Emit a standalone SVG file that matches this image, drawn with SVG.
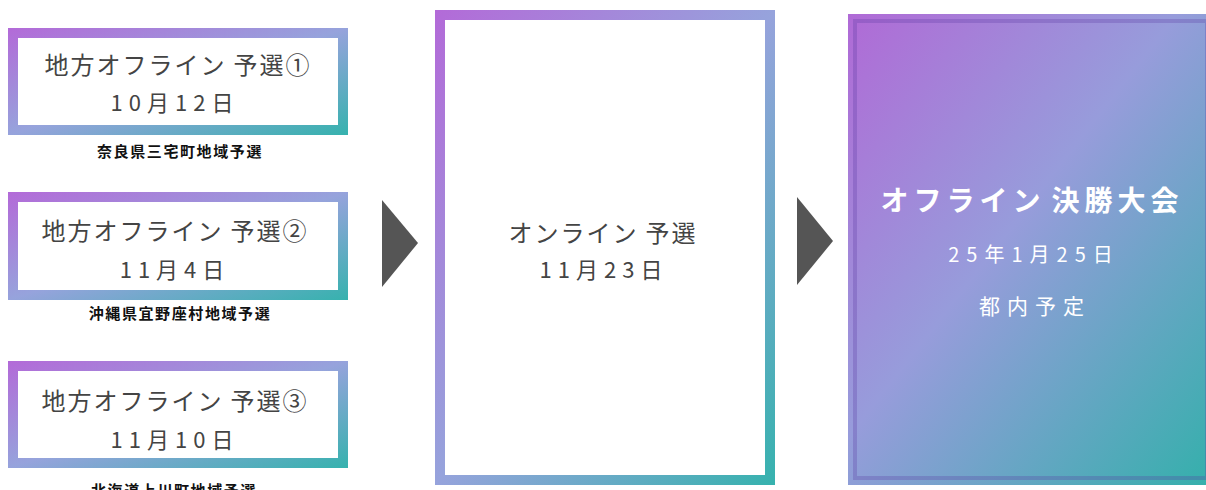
<svg xmlns="http://www.w3.org/2000/svg" width="1206" height="490" viewBox="0 0 1206 490">
  <defs>
    <linearGradient id="g" x1="0" y1="0" x2="1" y2="1">
      <stop offset="0" stop-color="#b36ad8"/>
      <stop offset="0.5" stop-color="#96a3dc"/>
      <stop offset="1" stop-color="#36b2ae"/>
    </linearGradient>
    <linearGradient id="gf" x1="0" y1="0" x2="1" y2="1">
      <stop offset="0" stop-color="#b06ad6"/>
      <stop offset="0.45" stop-color="#979cdb"/>
      <stop offset="1" stop-color="#33b0ab"/>
    </linearGradient>
    <style>
      .t { font-family: "Noto Sans CJK JP", "Noto Sans", sans-serif; text-anchor: middle; }
      .title { font-size: 24px; fill: #444; letter-spacing: 2px; }
      .date { font-size: 22px; fill: #444; letter-spacing: 6px; }
      .sub { font-size: 15px; fill: #111; font-weight: bold; letter-spacing: 1.6px; }
      .ftitle { font-size: 28px; fill: #fff; font-weight: bold; letter-spacing: 5px; }
      .fsub { font-size: 20px; fill: #fff; letter-spacing: 7px; }
      .arrow { fill: #555; }
      .white { fill: #fff; }
    </style>
  </defs>

  <g id="qual1">
    <rect x="8" y="28" width="340" height="107" fill="url(#g)"/>
    <rect x="18" y="38" width="320" height="87" class="white"/>
    <text class="t title" x="178" y="74">地方オフライン<tspan dx="7">予選①</tspan></text>
    <text class="t date" x="175" y="111">10月12日</text>
    <text class="t sub" x="180" y="157">奈良県三宅町地域予選</text>
  </g>

  <g id="qual2">
    <rect x="8" y="192" width="340" height="108" fill="url(#g)"/>
    <rect x="18" y="202" width="320" height="88" class="white"/>
    <text class="t title" x="175" y="240">地方オフライン<tspan dx="7">予選②</tspan></text>
    <text class="t date" x="175" y="278">11月4日</text>
    <text class="t sub" x="180" y="319">沖縄県宜野座村地域予選</text>
  </g>

  <g id="qual3">
    <rect x="8" y="361" width="340" height="107" fill="url(#g)"/>
    <rect x="18" y="371" width="320" height="87" class="white"/>
    <text class="t title" x="175" y="410">地方オフライン<tspan dx="7">予選③</tspan></text>
    <text class="t date" x="175" y="448">11月10日</text>
    <text class="t sub" x="174" y="496">北海道上川町地域予選</text>
  </g>

  <g id="online">
    <rect x="435" y="10" width="340" height="475" fill="url(#g)"/>
    <rect x="445" y="20" width="320" height="455" class="white"/>
    <text class="t title" x="603" y="242">オンライン<tspan dx="7">予選</tspan></text>
    <text class="t date" x="604" y="278">11月23日</text>
  </g>

  <g id="final">
    <rect x="848" y="14" width="366" height="471" fill="url(#gf)"/>
    <rect x="855" y="21" width="352" height="457" fill="none" stroke="#5a3aa0" stroke-opacity="0.28" stroke-width="4"/>
    <text class="t ftitle" x="1032" y="211">オフライン<tspan dx="6">決勝大会</tspan></text>
    <text class="t fsub" x="1034" y="262">25年1月25日</text>
    <text class="t fsub" x="1035" y="314" style="font-size:21px">都内予定</text>
  </g>

  <g id="connectors">
    <polygon class="arrow" points="382,200 418,243 382,287"/>
    <polygon class="arrow" points="797,197 833,241 797,285"/>
  </g>
</svg>
